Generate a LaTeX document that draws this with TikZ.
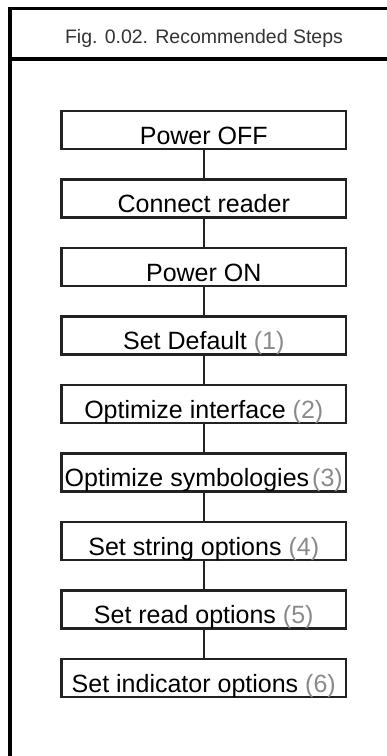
\documentclass[tikz,border=0pt]{standalone}
\usepackage{fontspec}
\setmainfont{Liberation Sans}
\definecolor{numgray}{HTML}{8A8A8A}
\definecolor{boxline}{HTML}{222222}
\definecolor{titlegray}{HTML}{333333}
\tikzset{
  stepbox/.style={draw=boxline, line width=2.2pt, inner sep=0pt,
    minimum width=284.5pt, text height=33pt, text depth=5pt,
    font=\fontsize{25}{30}\selectfont, text=black},
  link/.style={draw=boxline, line width=2pt},
  frameline/.style={draw=black, line width=3.5pt}
}
\newcommand{\numtxt}[1]{\textcolor{numgray}{#1}}
\begin{document}
\begin{tikzpicture}[x=1pt,y=-1pt]
\useasboundingbox (0,0) rectangle (387,756);
% outer frame (cropped on right and bottom)
\draw[frameline] (10,800) -- (10,8.5) -- (420,8.5);
\draw[frameline] (10,59) -- (420,59);
\node[anchor=base, inner sep=0pt, text=titlegray, font=\fontsize{19.5}{23}\selectfont] (title) at (204,43) {Fig. 0.02. Recommended Steps};
% steps
\node[stepbox] (s1) at (203.75,130) {Power OFF};
\node[stepbox] (s2) at (203.75,198.5) {Connect reader};
\node[stepbox] (s3) at (203.75,267) {Power ON};
\node[stepbox] (s4) at (203.75,335.5) {Set Default \numtxt{(1)}};
\node[stepbox] (s5) at (203.75,404) {Optimize interface \numtxt{(2)}};
\node[stepbox] (s6) at (203.75,472.5) {Optimize symbologies\hspace{0.12em}\numtxt{(3)}};
\node[stepbox] (s7) at (203.75,541) {Set string options \numtxt{(4)}};
\node[stepbox] (s8) at (203.75,609.5) {Set read options \numtxt{(5)}};
\node[stepbox] (s9) at (203.75,678) {Set indicator options \numtxt{(6)}};
\foreach \a/\b in {s1/s2,s2/s3,s3/s4,s4/s5,s5/s6,s6/s7,s7/s8,s8/s9}
  \draw[link] (\a.south) -- (\b.north);
\end{tikzpicture}
\end{document}
